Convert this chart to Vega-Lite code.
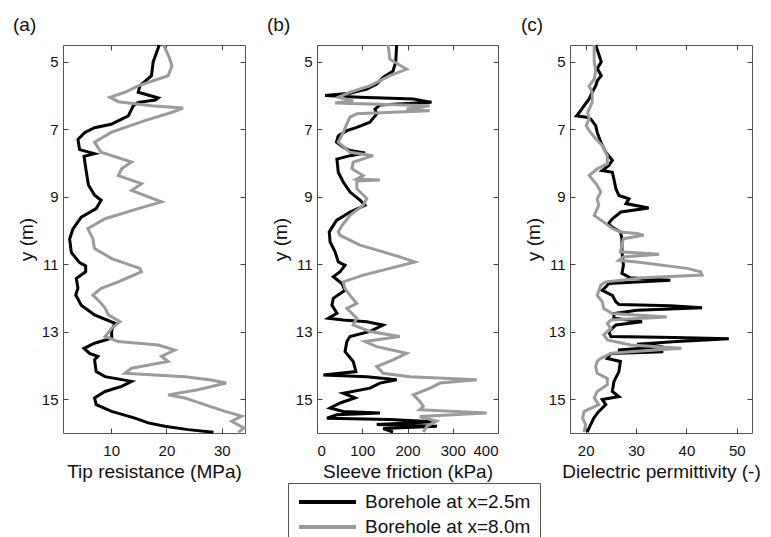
{
"$schema":"https://vega.github.io/schema/vega-lite/v6.json",
"padding":{"left":12,"top":15,"right":5,"bottom":0},
"background":"white",
"datasets":{
"a":[
{"s":"k","d":4.5,"v":18.7},{"s":"k","d":5.0,"v":17.6},{"s":"k","d":5.41,"v":17.3},{"s":"k","d":5.71,"v":15.2},{"s":"k","d":5.9,"v":14.9},{"s":"k","d":6.07,"v":18.5},{"s":"k","d":6.13,"v":18.0},{"s":"k","d":6.2,"v":14.9},{"s":"k","d":6.3,"v":14.0},{"s":"k","d":6.6,"v":13.1},{"s":"k","d":6.85,"v":10.0},{"s":"k","d":6.95,"v":7.0},{"s":"k","d":7.1,"v":5.2},{"s":"k","d":7.3,"v":4.0},{"s":"k","d":7.6,"v":4.3},{"s":"k","d":7.72,"v":7.0},{"s":"k","d":7.8,"v":5.1},{"s":"k","d":8.25,"v":5.5},{"s":"k","d":8.65,"v":5.9},{"s":"k","d":8.95,"v":7.0},{"s":"k","d":9.1,"v":8.2},{"s":"k","d":9.35,"v":7.3},{"s":"k","d":9.6,"v":4.6},{"s":"k","d":9.95,"v":3.1},{"s":"k","d":10.25,"v":2.5},{"s":"k","d":10.65,"v":2.8},{"s":"k","d":10.95,"v":4.3},{"s":"k","d":11.05,"v":5.4},{"s":"k","d":11.22,"v":5.4},{"s":"k","d":11.42,"v":3.7},{"s":"k","d":11.71,"v":4.0},{"s":"k","d":11.91,"v":3.6},{"s":"k","d":12.21,"v":4.6},{"s":"k","d":12.5,"v":7.0},{"s":"k","d":12.75,"v":10.7},{"s":"k","d":12.95,"v":10.1},{"s":"k","d":13.19,"v":10.1},{"s":"k","d":13.34,"v":7.0},{"s":"k","d":13.49,"v":5.1},{"s":"k","d":13.64,"v":6.1},{"s":"k","d":13.73,"v":7.6},{"s":"k","d":13.83,"v":7.0},{"s":"k","d":14.18,"v":7.3},{"s":"k","d":14.33,"v":8.9},{"s":"k","d":14.47,"v":13.7},{"s":"k","d":14.62,"v":11.9},{"s":"k","d":14.77,"v":8.9},{"s":"k","d":14.96,"v":7.0},{"s":"k","d":15.16,"v":7.3},{"s":"k","d":15.36,"v":10.1},{"s":"k","d":15.56,"v":14.3},{"s":"k","d":15.7,"v":16.7},{"s":"k","d":15.8,"v":19.7},{"s":"k","d":15.9,"v":23.9},{"s":"k","d":15.98,"v":28.5},
{"s":"g","d":4.5,"v":19.5},{"s":"g","d":4.87,"v":20.5},{"s":"g","d":5.12,"v":21.0},{"s":"g","d":5.41,"v":20.3},{"s":"g","d":5.71,"v":14.9},{"s":"g","d":5.9,"v":12.5},{"s":"g","d":6.05,"v":9.8},{"s":"g","d":6.18,"v":11.3},{"s":"g","d":6.3,"v":17.3},{"s":"g","d":6.37,"v":23.0},{"s":"g","d":6.5,"v":20.9},{"s":"g","d":6.74,"v":16.1},{"s":"g","d":7.09,"v":10.0},{"s":"g","d":7.38,"v":7.0},{"s":"g","d":7.68,"v":8.2},{"s":"g","d":7.97,"v":13.7},{"s":"g","d":8.17,"v":11.9},{"s":"g","d":8.37,"v":11.3},{"s":"g","d":8.61,"v":15.5},{"s":"g","d":8.81,"v":13.7},{"s":"g","d":9.15,"v":19.1},{"s":"g","d":9.35,"v":14.9},{"s":"g","d":9.65,"v":8.9},{"s":"g","d":9.94,"v":5.8},{"s":"g","d":10.24,"v":6.7},{"s":"g","d":10.53,"v":7.0},{"s":"g","d":10.83,"v":10.1},{"s":"g","d":11.12,"v":15.2},{"s":"g","d":11.22,"v":15.5},{"s":"g","d":11.52,"v":11.3},{"s":"g","d":11.71,"v":8.2},{"s":"g","d":11.91,"v":6.7},{"s":"g","d":12.1,"v":7.9},{"s":"g","d":12.3,"v":8.9},{"s":"g","d":12.5,"v":9.5},{"s":"g","d":12.7,"v":11.6},{"s":"g","d":12.9,"v":10.1},{"s":"g","d":13.14,"v":8.9},{"s":"g","d":13.29,"v":11.3},{"s":"g","d":13.39,"v":18.5},{"s":"g","d":13.54,"v":21.5},{"s":"g","d":13.73,"v":19.1},{"s":"g","d":13.88,"v":20.3},{"s":"g","d":14.08,"v":13.7},{"s":"g","d":14.23,"v":12.5},{"s":"g","d":14.33,"v":23.3},{"s":"g","d":14.43,"v":28.1},{"s":"g","d":14.52,"v":30.8},{"s":"g","d":14.72,"v":25.7},{"s":"g","d":14.87,"v":20.3},{"s":"g","d":14.96,"v":23.3},{"s":"g","d":15.16,"v":26.9},{"s":"g","d":15.36,"v":30.6},{"s":"g","d":15.5,"v":33.6},{"s":"g","d":15.65,"v":31.8},{"s":"g","d":15.85,"v":34.0},{"s":"g","d":15.98,"v":33.0}
],
"b":[
{"s":"k","d":4.5,"v":176},{"s":"k","d":5.0,"v":174},{"s":"k","d":5.27,"v":168},{"s":"k","d":5.46,"v":146},{"s":"k","d":5.66,"v":132},{"s":"k","d":5.81,"v":110},{"s":"k","d":5.93,"v":73},{"s":"k","d":6.0,"v":18},{"s":"k","d":6.05,"v":95},{"s":"k","d":6.1,"v":213},{"s":"k","d":6.2,"v":253},{"s":"k","d":6.28,"v":139},{"s":"k","d":6.4,"v":128},{"s":"k","d":6.54,"v":132},{"s":"k","d":6.79,"v":117},{"s":"k","d":6.94,"v":88},{"s":"k","d":7.04,"v":66},{"s":"k","d":7.19,"v":47},{"s":"k","d":7.38,"v":43},{"s":"k","d":7.53,"v":58},{"s":"k","d":7.63,"v":73},{"s":"k","d":7.7,"v":106},{"s":"k","d":7.78,"v":73},{"s":"k","d":7.88,"v":44},{"s":"k","d":8.27,"v":47},{"s":"k","d":8.56,"v":58},{"s":"k","d":8.86,"v":73},{"s":"k","d":9.1,"v":95},{"s":"k","d":9.25,"v":106},{"s":"k","d":9.45,"v":73},{"s":"k","d":9.7,"v":43},{"s":"k","d":10.04,"v":27},{"s":"k","d":10.34,"v":29},{"s":"k","d":10.63,"v":40},{"s":"k","d":10.93,"v":47},{"s":"k","d":11.03,"v":62},{"s":"k","d":11.22,"v":51},{"s":"k","d":11.37,"v":36},{"s":"k","d":11.57,"v":55},{"s":"k","d":11.77,"v":62},{"s":"k","d":12.01,"v":36},{"s":"k","d":12.21,"v":33},{"s":"k","d":12.45,"v":44},{"s":"k","d":12.6,"v":25},{"s":"k","d":12.65,"v":58},{"s":"k","d":12.7,"v":110},{"s":"k","d":12.8,"v":146},{"s":"k","d":12.99,"v":117},{"s":"k","d":13.14,"v":73},{"s":"k","d":13.29,"v":66},{"s":"k","d":13.59,"v":62},{"s":"k","d":13.88,"v":80},{"s":"k","d":14.18,"v":86},{"s":"k","d":14.28,"v":14},{"s":"k","d":14.33,"v":110},{"s":"k","d":14.42,"v":176},{"s":"k","d":14.52,"v":139},{"s":"k","d":14.67,"v":117},{"s":"k","d":14.82,"v":58},{"s":"k","d":14.96,"v":84},{"s":"k","d":15.11,"v":51},{"s":"k","d":15.26,"v":29},{"s":"k","d":15.36,"v":58},{"s":"k","d":15.41,"v":139},{"s":"k","d":15.46,"v":44},{"s":"k","d":15.56,"v":22},{"s":"k","d":15.6,"v":161},{"s":"k","d":15.67,"v":257},{"s":"k","d":15.75,"v":132},{"s":"k","d":15.8,"v":265},{"s":"k","d":15.87,"v":146},{"s":"k","d":15.97,"v":168},
{"s":"g","d":4.5,"v":157},{"s":"g","d":4.92,"v":161},{"s":"g","d":5.22,"v":198},{"s":"g","d":5.41,"v":161},{"s":"g","d":5.71,"v":117},{"s":"g","d":5.9,"v":73},{"s":"g","d":6.05,"v":47},{"s":"g","d":6.15,"v":80},{"s":"g","d":6.22,"v":40},{"s":"g","d":6.3,"v":249},{"s":"g","d":6.4,"v":198},{"s":"g","d":6.45,"v":249},{"s":"g","d":6.54,"v":88},{"s":"g","d":6.64,"v":73},{"s":"g","d":6.84,"v":66},{"s":"g","d":7.09,"v":58},{"s":"g","d":7.38,"v":47},{"s":"g","d":7.68,"v":73},{"s":"g","d":7.78,"v":124},{"s":"g","d":7.97,"v":80},{"s":"g","d":8.17,"v":77},{"s":"g","d":8.37,"v":102},{"s":"g","d":8.47,"v":88},{"s":"g","d":8.5,"v":139},{"s":"g","d":8.53,"v":88},{"s":"g","d":8.76,"v":88},{"s":"g","d":9.05,"v":110},{"s":"g","d":9.25,"v":102},{"s":"g","d":9.55,"v":73},{"s":"g","d":9.74,"v":62},{"s":"g","d":9.85,"v":55},{"s":"g","d":10.04,"v":47},{"s":"g","d":10.14,"v":51},{"s":"g","d":10.24,"v":66},{"s":"g","d":10.43,"v":95},{"s":"g","d":10.63,"v":146},{"s":"g","d":10.78,"v":183},{"s":"g","d":10.93,"v":216},{"s":"g","d":11.12,"v":161},{"s":"g","d":11.32,"v":102},{"s":"g","d":11.52,"v":58},{"s":"g","d":11.72,"v":62},{"s":"g","d":11.92,"v":73},{"s":"g","d":12.16,"v":88},{"s":"g","d":12.31,"v":66},{"s":"g","d":12.6,"v":88},{"s":"g","d":12.8,"v":80},{"s":"g","d":12.99,"v":117},{"s":"g","d":13.14,"v":183},{"s":"g","d":13.29,"v":106},{"s":"g","d":13.44,"v":132},{"s":"g","d":13.64,"v":198},{"s":"g","d":13.83,"v":168},{"s":"g","d":14.03,"v":132},{"s":"g","d":14.23,"v":146},{"s":"g","d":14.33,"v":205},{"s":"g","d":14.42,"v":353},{"s":"g","d":14.52,"v":272},{"s":"g","d":14.67,"v":250},{"s":"g","d":14.87,"v":213},{"s":"g","d":15.06,"v":227},{"s":"g","d":15.21,"v":235},{"s":"g","d":15.31,"v":227},{"s":"g","d":15.41,"v":375},{"s":"g","d":15.51,"v":227},{"s":"g","d":15.65,"v":264},{"s":"g","d":15.8,"v":243},{"s":"g","d":15.97,"v":235}
],
"c":[
{"s":"k","d":4.5,"v":22},{"s":"k","d":5.0,"v":23.1},{"s":"k","d":5.2,"v":22.3},{"s":"k","d":5.41,"v":23.1},{"s":"k","d":5.56,"v":22.3},{"s":"k","d":5.71,"v":22},{"s":"k","d":5.9,"v":21.3},{"s":"k","d":6.1,"v":20.7},{"s":"k","d":6.3,"v":19.7},{"s":"k","d":6.45,"v":19},{"s":"k","d":6.6,"v":18.2},{"s":"k","d":6.64,"v":20.1},{"s":"k","d":6.69,"v":21},{"s":"k","d":6.89,"v":22},{"s":"k","d":7.09,"v":22.3},{"s":"k","d":7.38,"v":23},{"s":"k","d":7.68,"v":24},{"s":"k","d":7.92,"v":25.3},{"s":"k","d":8.07,"v":24.6},{"s":"k","d":8.22,"v":23.3},{"s":"k","d":8.27,"v":25.3},{"s":"k","d":8.47,"v":25.6},{"s":"k","d":8.76,"v":26},{"s":"k","d":8.96,"v":26.6},{"s":"k","d":9.06,"v":28.6},{"s":"k","d":9.2,"v":28},{"s":"k","d":9.33,"v":32.5},{"s":"k","d":9.45,"v":27},{"s":"k","d":9.65,"v":25.3},{"s":"k","d":9.8,"v":24.5},{"s":"k","d":9.9,"v":25.3},{"s":"k","d":10.04,"v":26.9},{"s":"k","d":10.24,"v":27.2},{"s":"k","d":10.63,"v":27.2},{"s":"k","d":11.03,"v":27.5},{"s":"k","d":11.27,"v":27.2},{"s":"k","d":11.4,"v":28.9},{"s":"k","d":11.47,"v":36.8},{"s":"k","d":11.57,"v":24.6},{"s":"k","d":11.67,"v":24},{"s":"k","d":11.77,"v":23.3},{"s":"k","d":11.92,"v":25.3},{"s":"k","d":12.11,"v":26},{"s":"k","d":12.19,"v":26.6},{"s":"k","d":12.23,"v":36.8},{"s":"k","d":12.29,"v":43.1},{"s":"k","d":12.36,"v":30.2},{"s":"k","d":12.46,"v":25.6},{"s":"k","d":12.6,"v":25.6},{"s":"k","d":12.7,"v":31.2},{"s":"k","d":12.8,"v":26},{"s":"k","d":12.99,"v":24.6},{"s":"k","d":13.14,"v":25},{"s":"k","d":13.17,"v":37.5},{"s":"k","d":13.21,"v":48.4},{"s":"k","d":13.29,"v":38.1},{"s":"k","d":13.37,"v":30.2},{"s":"k","d":13.44,"v":35.4},{"s":"k","d":13.54,"v":26.4},{"s":"k","d":13.59,"v":35.4},{"s":"k","d":13.64,"v":25},{"s":"k","d":13.79,"v":24.3},{"s":"k","d":13.88,"v":26.9},{"s":"k","d":14.18,"v":26.6},{"s":"k","d":14.48,"v":25.6},{"s":"k","d":14.77,"v":25.3},{"s":"k","d":14.92,"v":26.6},{"s":"k","d":15.01,"v":23.3},{"s":"k","d":15.16,"v":24},{"s":"k","d":15.36,"v":22.6},{"s":"k","d":15.56,"v":21.6},{"s":"k","d":15.75,"v":21},{"s":"k","d":15.97,"v":20.3},
{"s":"g","d":4.5,"v":21.7},{"s":"g","d":5.0,"v":21.7},{"s":"g","d":5.25,"v":22},{"s":"g","d":5.51,"v":21.7},{"s":"g","d":5.71,"v":20.7},{"s":"g","d":5.9,"v":21.3},{"s":"g","d":6.2,"v":21.3},{"s":"g","d":6.5,"v":20.4},{"s":"g","d":6.69,"v":20.7},{"s":"g","d":6.89,"v":20.1},{"s":"g","d":7.04,"v":20.7},{"s":"g","d":7.28,"v":22},{"s":"g","d":7.48,"v":23.3},{"s":"g","d":7.78,"v":24.3},{"s":"g","d":8.02,"v":24.3},{"s":"g","d":8.17,"v":22.3},{"s":"g","d":8.37,"v":20.7},{"s":"g","d":8.66,"v":22.3},{"s":"g","d":8.86,"v":23},{"s":"g","d":9.06,"v":22.3},{"s":"g","d":9.25,"v":22.6},{"s":"g","d":9.55,"v":21.7},{"s":"g","d":9.75,"v":23.6},{"s":"g","d":9.94,"v":25.3},{"s":"g","d":10.04,"v":26.9},{"s":"g","d":10.09,"v":30.2},{"s":"g","d":10.14,"v":31.5},{"s":"g","d":10.24,"v":27.5},{"s":"g","d":10.43,"v":27.2},{"s":"g","d":10.63,"v":26.9},{"s":"g","d":10.7,"v":34.6},{"s":"g","d":10.78,"v":27.5},{"s":"g","d":10.88,"v":26.6},{"s":"g","d":10.93,"v":30.2},{"s":"g","d":11.12,"v":40.1},{"s":"g","d":11.22,"v":42.8},{"s":"g","d":11.32,"v":43.1},{"s":"g","d":11.4,"v":31.5},{"s":"g","d":11.52,"v":24},{"s":"g","d":11.62,"v":23},{"s":"g","d":11.92,"v":22.3},{"s":"g","d":12.11,"v":23.3},{"s":"g","d":12.31,"v":23.6},{"s":"g","d":12.46,"v":25.3},{"s":"g","d":12.56,"v":36.1},{"s":"g","d":12.65,"v":25},{"s":"g","d":12.75,"v":24.3},{"s":"g","d":12.9,"v":25},{"s":"g","d":13.09,"v":23.6},{"s":"g","d":13.24,"v":24.3},{"s":"g","d":13.39,"v":28.9},{"s":"g","d":13.49,"v":39},{"s":"g","d":13.59,"v":28.9},{"s":"g","d":13.64,"v":25},{"s":"g","d":13.79,"v":23},{"s":"g","d":13.88,"v":22.3},{"s":"g","d":14.03,"v":22},{"s":"g","d":14.23,"v":22.3},{"s":"g","d":14.38,"v":24.3},{"s":"g","d":14.57,"v":24.3},{"s":"g","d":14.77,"v":22.3},{"s":"g","d":14.96,"v":21.7},{"s":"g","d":15.16,"v":22.6},{"s":"g","d":15.36,"v":19.7},{"s":"g","d":15.56,"v":19.4},{"s":"g","d":15.75,"v":20},{"s":"g","d":15.97,"v":19.7}
]
},
"spacing":72,
"bounds":"flush",
"hconcat":[
{
"width":182,"height":388,
"data":{"name":"a"},
"title":{"text":"(a)","anchor":"start","frame":"group","dx":-50,"offset":4},
"layer":[
{"mark":{"type":"line","strokeWidth":3},
"encoding":{
"x":{"field":"v","type":"quantitative","scale":{"domain":[1.3,34.2],"nice":false,"zero":false},"axis":{"values":[10,20,30],"title":"Tip resistance (MPa)"}},
"y":{"field":"d","type":"quantitative","scale":{"domain":[4.5,16],"reverse":true,"nice":false,"zero":false},"axis":{"values":[5,7,9,11,13,15],"title":"y (m)"}},
"color":{"field":"s","type":"nominal","scale":{"domain":["k","g"],"range":["#000000","#9b9b9b"]},"legend":{"labelExpr":"datum.label == 'k' ? 'Borehole at x=2.5m' : 'Borehole at x=8.0m'"}},
"order":{"field":"d","type":"quantitative"}}},
{"mark":{"type":"point","opacity":0},
"encoding":{
"x":{"field":"v","type":"quantitative","scale":{"domain":[1.3,34.2],"nice":false,"zero":false},"axis":{"orient":"top","values":[10,20,30],"labels":false,"title":null}},
"y":{"field":"d","type":"quantitative","scale":{"domain":[4.5,16],"reverse":true,"nice":false,"zero":false},"axis":{"orient":"right","values":[5,7,9,11,13,15],"labels":false,"title":null}}}}
],
"resolve":{"axis":{"x":"independent","y":"independent"}}
},
{
"width":181,"height":388,
"data":{"name":"b"},
"title":{"text":"(b)","anchor":"start","frame":"group","dx":-50,"offset":4},
"layer":[
{"mark":{"type":"line","strokeWidth":3},
"encoding":{
"x":{"field":"v","type":"quantitative","scale":{"domain":[0,400],"nice":false,"zero":false},"axis":{"values":[0,100,200,300,400],"title":"Sleeve friction (kPa)"}},
"y":{"field":"d","type":"quantitative","scale":{"domain":[4.5,16],"reverse":true,"nice":false,"zero":false},"axis":{"values":[5,7,9,11,13,15],"title":"y (m)"}},
"color":{"field":"s","type":"nominal","scale":{"domain":["k","g"],"range":["#000000","#9b9b9b"]},"legend":{"labelExpr":"datum.label == 'k' ? 'Borehole at x=2.5m' : 'Borehole at x=8.0m'"}},
"order":{"field":"d","type":"quantitative"}}},
{"mark":{"type":"point","opacity":0},
"encoding":{
"x":{"field":"v","type":"quantitative","scale":{"domain":[0,400],"nice":false,"zero":false},"axis":{"orient":"top","values":[0,100,200,300,400],"labels":false,"title":null}},
"y":{"field":"d","type":"quantitative","scale":{"domain":[4.5,16],"reverse":true,"nice":false,"zero":false},"axis":{"orient":"right","values":[5,7,9,11,13,15],"labels":false,"title":null}}}}
],
"resolve":{"axis":{"x":"independent","y":"independent"}}
},
{
"width":182,"height":388,
"data":{"name":"c"},
"title":{"text":"(c)","anchor":"start","frame":"group","dx":-49,"offset":4},
"layer":[
{"mark":{"type":"line","strokeWidth":3},
"encoding":{
"x":{"field":"v","type":"quantitative","scale":{"domain":[16.9,53],"nice":false,"zero":false},"axis":{"values":[20,30,40,50],"title":"Dielectric permittivity (-)"}},
"y":{"field":"d","type":"quantitative","scale":{"domain":[4.5,16],"reverse":true,"nice":false,"zero":false},"axis":{"values":[5,7,9,11,13,15],"title":"y (m)"}},
"color":{"field":"s","type":"nominal","scale":{"domain":["k","g"],"range":["#000000","#9b9b9b"]},"legend":{"labelExpr":"datum.label == 'k' ? 'Borehole at x=2.5m' : 'Borehole at x=8.0m'"}},
"order":{"field":"d","type":"quantitative"}}},
{"mark":{"type":"point","opacity":0},
"encoding":{
"x":{"field":"v","type":"quantitative","scale":{"domain":[16.9,53],"nice":false,"zero":false},"axis":{"orient":"top","values":[20,30,40,50],"labels":false,"title":null}},
"y":{"field":"d","type":"quantitative","scale":{"domain":[4.5,16],"reverse":true,"nice":false,"zero":false},"axis":{"orient":"right","values":[5,7,9,11,13,15],"labels":false,"title":null}}}}
],
"resolve":{"axis":{"x":"independent","y":"independent"}}
}
],
"config":{
"font":"Liberation Sans",
"view":{"stroke":"#555555","strokeWidth":1},
"axis":{"domain":false,"grid":false,"tickColor":"#444444","tickSize":-5,"tickWidth":1,"labelFont":"Liberation Sans","labelFontSize":15,"labelColor":"#111111","titleFont":"Liberation Sans","titleFontSize":19,"titleFontWeight":"normal","titleColor":"#111111","minExtent":0},
"axisX":{"labelPadding":15,"titlePadding":4},
"axisY":{"labelPadding":10,"titlePadding":5,"minExtent":0},
"title":{"font":"Liberation Sans","fontSize":19,"fontWeight":"normal","color":"#111111"},
"legend":{"orient":"none","legendX":225,"legendY":438,"title":null,"symbolType":"stroke","symbolSize":3249,"symbolStrokeWidth":4,"clipHeight":20,"labelLimit":400,"labelFont":"Liberation Sans","labelFontSize":19,"labelColor":"#111111","labelOffset":7,"rowPadding":5,"padding":9,"strokeColor":"#555555","fillColor":"white"}
}
}
